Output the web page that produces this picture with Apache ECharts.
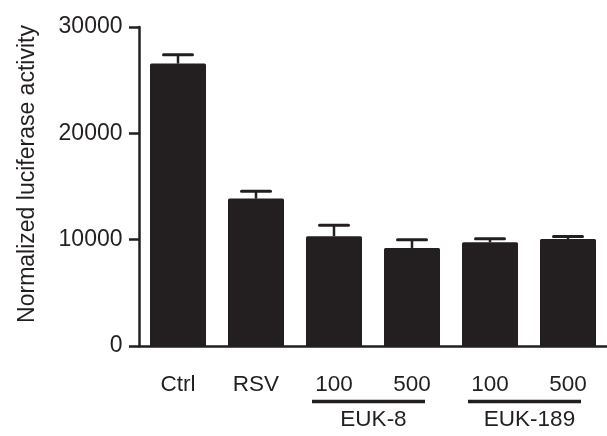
<!DOCTYPE html>
<html>
<head>
<meta charset="utf-8">
<script src="https://cdn.jsdelivr.net/npm/echarts@6/dist/echarts.min.js"></script>
<style>html,body{margin:0;padding:0;background:#fff}#c{width:607px;height:436px}</style>
</head>
<body>
<div id="c"></div>
<script>
const categories = ['Ctrl', 'RSV', '100', '500', '100', '500'];
const means = [26560, 13860, 10320, 9220, 9750, 10060];
const errors = [820, 700, 1030, 770, 330, 240];
const groups = [[2, 3, 'EUK-8'], [4, 5, 'EUK-189']];
const yTicks = [0, 10000, 20000, 30000];
const yName = 'Normalized luciferase activity';

const INK = '#231f20';
const FONT = 'Liberation Sans, Arial, Helvetica, sans-serif';

const chart = echarts.init(document.getElementById('c'), null, {renderer: 'canvas'});
chart.setOption({
  animation: false,
  backgroundColor: '#ffffff',
  grid: {left: 139, top: 27, width: 477.5, height: 319},
  xAxis: {
    type: 'category',
    data: categories,
    axisLine: {lineStyle: {color: INK, width: 2.5}},
    axisTick: {alignWithLabel: true, length: 10, lineStyle: {color: INK, width: 2.5}},
    axisLabel: {color: INK, fontSize: 22.5, fontFamily: FONT, margin: 27}
  },
  yAxis: {
    type: 'value',
    min: yTicks[0], max: yTicks[yTicks.length - 1], interval: 10000,
    name: yName,
    nameLocation: 'middle',
    nameGap: 100,
    nameRotate: 90,
    nameTextStyle: {color: INK, fontSize: 23, fontFamily: FONT, padding: [0, 0, 0, 25]},
    splitLine: {show: false},
    axisLine: {show: true, lineStyle: {color: INK, width: 2.5}},
    axisTick: {show: true, length: 10, lineStyle: {color: INK, width: 2.5}},
    axisLabel: {color: INK, fontSize: 23, fontFamily: FONT, margin: 16.5, formatter: v => String(v)}
  },
  series: [
    {
      type: 'bar',
      data: means,
      barWidth: 56,
      itemStyle: {color: INK, borderRadius: [1.5, 1.5, 0, 0]}
    },
    {
      type: 'custom',
      data: means.map((m, i) => [i, m, m + errors[i]]),
      z: 3,
      renderItem: function (params, api) {
        const i = api.value(0);
        const b = api.coord([i, api.value(1)]);
        const t = api.coord([i, api.value(2)]);
        return {
          type: 'group',
          children: [
            {type: 'line', shape: {x1: b[0], y1: b[1], x2: t[0], y2: t[1]}, style: {stroke: INK, lineWidth: 2.5}},
            {type: 'line', shape: {x1: t[0] - 14.5, y1: t[1], x2: t[0] + 14.5, y2: t[1]}, style: {stroke: INK, lineWidth: 3, lineCap: 'round'}}
          ]
        };
      }
    },
    {
      type: 'custom',
      data: groups,
      clip: false,
      silent: true,
      renderItem: function (params, api) {
        const a = api.coord([api.value(0), 0]);
        const b = api.coord([api.value(1), 0]);
        const y = a[1] + 55.5;
        const label = groups[params.dataIndex][2];
        return {
          type: 'group',
          children: [
            {type: 'line', shape: {x1: a[0] - 22, y1: y, x2: b[0] + 13, y2: y}, style: {stroke: INK, lineWidth: 3.3}},
            {type: 'text', x: (a[0] + b[0]) / 2 + 0.5, y: y + 18, style: {text: label, fill: INK, font: '22.5px ' + FONT, align: 'center', verticalAlign: 'middle'}}
          ]
        };
      }
    }
  ]
});
</script>
</body>
</html>
